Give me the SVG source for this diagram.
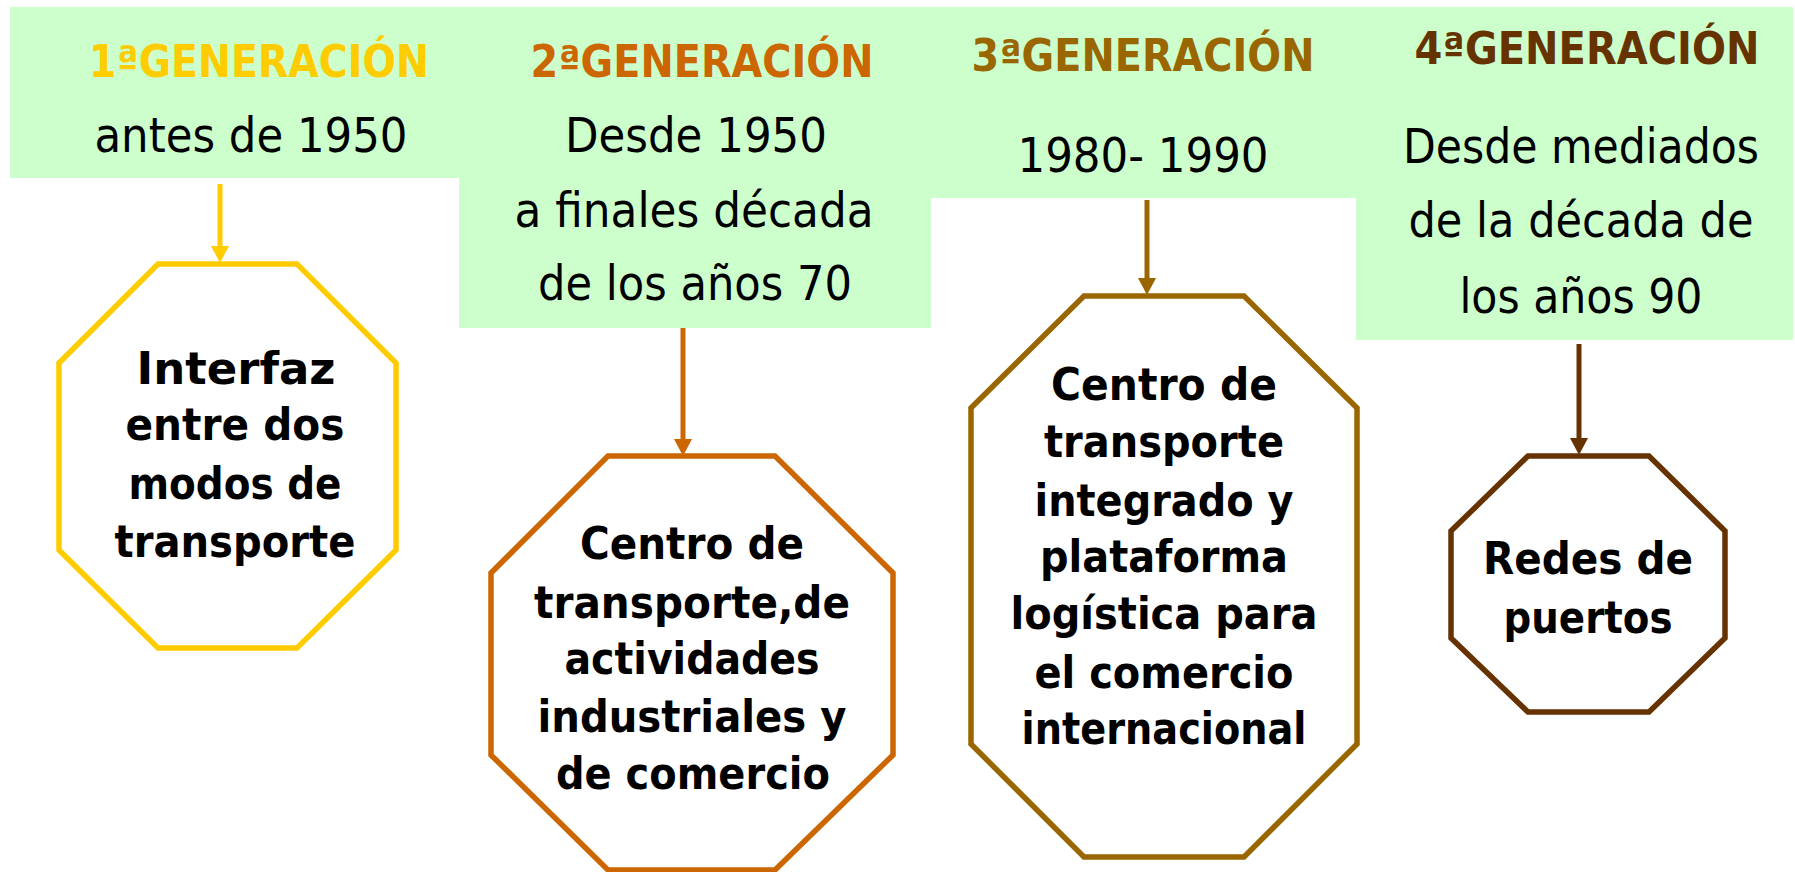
<svg xmlns="http://www.w3.org/2000/svg" width="1795" height="872" viewBox="0 0 1795 872">
<style>
.box{fill:#CCFFCC}
.t{font-family:"DejaVu Sans",sans-serif;font-weight:bold;font-size:44px;text-anchor:middle}
.d{font-family:"DejaVu Sans",sans-serif;font-size:48px;fill:#000;text-anchor:middle}
.o{font-family:"DejaVu Sans",sans-serif;font-weight:bold;font-size:45px;fill:#000;text-anchor:middle}
.oct{fill:#fff;stroke-width:5.5;stroke-linejoin:miter}
.c{stroke-width:5;fill:none}
.g1{fill:#FFCC00}.g2{fill:#CC6600}.g3{fill:#996600}.g4{fill:#663300}
.s1{stroke:#FFCC00}.s2{stroke:#CC6600}.s3{stroke:#996600}.s4{stroke:#663300}
</style>
<defs>
<marker id="a1" markerUnits="userSpaceOnUse" markerWidth="18" markerHeight="19" refX="0" refY="9" orient="auto" overflow="visible"><path d="M0,0 L17,9 L0,18 Z" class="g1"/></marker>
<marker id="a2" markerUnits="userSpaceOnUse" markerWidth="18" markerHeight="19" refX="0" refY="9" orient="auto" overflow="visible"><path d="M0,0 L17,9 L0,18 Z" class="g2"/></marker>
<marker id="a3" markerUnits="userSpaceOnUse" markerWidth="18" markerHeight="19" refX="0" refY="9" orient="auto" overflow="visible"><path d="M0,0 L17,9 L0,18 Z" class="g3"/></marker>
<marker id="a4" markerUnits="userSpaceOnUse" markerWidth="18" markerHeight="19" refX="0" refY="9" orient="auto" overflow="visible"><path d="M0,0 L17,9 L0,18 Z" class="g4"/></marker>
</defs>
<rect width="1795" height="872" fill="#fff"/>

<g id="header1">
<rect class="box" x="10" y="7" width="451" height="171"/>
<text class="t g1" x="259" y="77" textLength="340" lengthAdjust="spacingAndGlyphs">1ªGENERACIÓN</text>
<text class="d" x="251" y="152" textLength="313" lengthAdjust="spacingAndGlyphs">antes de 1950</text>
</g>
<g id="header2">
<rect class="box" x="459" y="7" width="472" height="321"/>
<text class="t g2" x="702" y="77" textLength="343" lengthAdjust="spacingAndGlyphs">2ªGENERACIÓN</text>
<text class="d" x="696" y="152" textLength="262" lengthAdjust="spacingAndGlyphs">Desde 1950</text>
<text class="d" x="694" y="227" textLength="359" lengthAdjust="spacingAndGlyphs">a finales década</text>
<text class="d" x="695" y="300" textLength="314" lengthAdjust="spacingAndGlyphs">de los años 70</text>
</g>
<g id="header3">
<rect class="box" x="929" y="7" width="428" height="191"/>
<text class="t g3" x="1143" y="71" textLength="343" lengthAdjust="spacingAndGlyphs">3ªGENERACIÓN</text>
<text class="d" x="1143" y="172" textLength="251" lengthAdjust="spacingAndGlyphs">1980- 1990</text>
</g>
<g id="header4">
<rect class="box" x="1356" y="7" width="437" height="333"/>
<text class="t g4" x="1587" y="64" textLength="345" lengthAdjust="spacingAndGlyphs">4ªGENERACIÓN</text>
<text class="d" x="1581" y="163" textLength="356" lengthAdjust="spacingAndGlyphs">Desde mediados</text>
<text class="d" x="1581" y="237" textLength="345" lengthAdjust="spacingAndGlyphs">de la década de</text>
<text class="d" x="1581" y="313" textLength="243" lengthAdjust="spacingAndGlyphs">los años 90</text>
</g>

<g id="connectors">
<line class="c s1" x1="220" y1="184" x2="220" y2="246" marker-end="url(#a1)"/>
<line class="c s2" x1="683" y1="328" x2="683" y2="439" marker-end="url(#a2)"/>
<line class="c s3" x1="1147" y1="200" x2="1147" y2="278" marker-end="url(#a3)"/>
<line class="c s4" x1="1579" y1="344" x2="1579" y2="438" marker-end="url(#a4)"/>
</g>

<g id="node1">
<polygon class="oct s1" points="158,264 297,264 396,363 396,550 297,648 158,648 59,550 59,363"/>
<text class="o" x="236" y="384" textLength="199" lengthAdjust="spacingAndGlyphs">Interfaz</text>
<text class="o" x="235" y="440" textLength="219" lengthAdjust="spacingAndGlyphs">entre dos</text>
<text class="o" x="235" y="499" textLength="213" lengthAdjust="spacingAndGlyphs">modos de</text>
<text class="o" x="235" y="557" textLength="241" lengthAdjust="spacingAndGlyphs">transporte</text>
</g>
<g id="node2">
<polygon class="oct s2" points="608,456 775,456 893,573 893,755 775,870 608,870 491,755 491,573"/>
<text class="o" x="692" y="559" textLength="224" lengthAdjust="spacingAndGlyphs">Centro de</text>
<text class="o" x="692" y="618" textLength="316" lengthAdjust="spacingAndGlyphs">transporte,de</text>
<text class="o" x="692" y="674" textLength="255" lengthAdjust="spacingAndGlyphs">actividades</text>
<text class="o" x="692" y="732" textLength="309" lengthAdjust="spacingAndGlyphs">industriales y</text>
<text class="o" x="693" y="789" textLength="274" lengthAdjust="spacingAndGlyphs">de comercio</text>
</g>
<g id="node3">
<polygon class="oct s3" points="1084,296 1244,296 1357,408 1357,744 1244,857 1084,857 971,744 971,408"/>
<text class="o" x="1164" y="400" textLength="226" lengthAdjust="spacingAndGlyphs">Centro de</text>
<text class="o" x="1164" y="457" textLength="240" lengthAdjust="spacingAndGlyphs">transporte</text>
<text class="o" x="1164" y="516" textLength="259" lengthAdjust="spacingAndGlyphs">integrado y</text>
<text class="o" x="1164" y="572" textLength="248" lengthAdjust="spacingAndGlyphs">plataforma</text>
<text class="o" x="1164" y="629" textLength="307" lengthAdjust="spacingAndGlyphs">logística para</text>
<text class="o" x="1164" y="688" textLength="259" lengthAdjust="spacingAndGlyphs">el comercio</text>
<text class="o" x="1164" y="744" textLength="285" lengthAdjust="spacingAndGlyphs">internacional</text>
</g>
<g id="node4">
<polygon class="oct s4" points="1528,456 1649,456 1725,531 1725,638 1649,712 1528,712 1451,638 1451,531"/>
<text class="o" x="1588" y="574" textLength="210" lengthAdjust="spacingAndGlyphs">Redes de</text>
<text class="o" x="1588" y="633" textLength="169" lengthAdjust="spacingAndGlyphs">puertos</text>
</g>
</svg>
